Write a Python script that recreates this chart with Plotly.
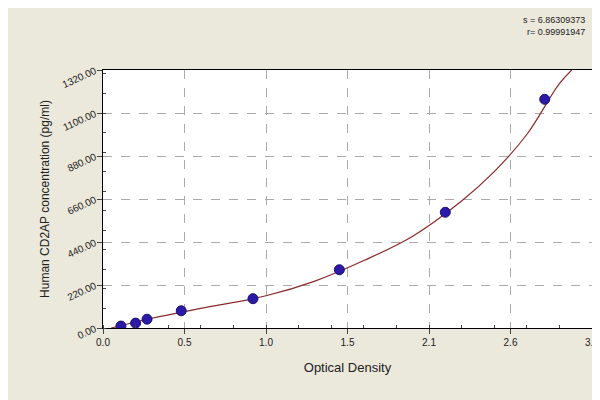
import plotly.graph_objects as go

od = [0.11, 0.20, 0.27, 0.48, 0.92, 1.45, 2.10, 2.71]
conc = [10, 25, 45, 88, 150, 298, 592, 1170]
curve_x = [0.05, 0.3, 0.6, 1.0, 1.3, 1.6, 1.9, 2.2, 2.4, 2.6, 2.8, 2.9]
curve_y = [0, 50, 100, 165, 240, 345, 470, 650, 800, 990, 1250, 1340]
xticks = [0, 0.5, 1.0, 1.5, 2.0, 2.5, 3.0]
xlabels = ["0.0", "0.5", "1.0", "1.5", "2.1", "2.6", "3.1"]
yticks = [0, 220, 440, 660, 880, 1100, 1320]
ylabels = ["0.00", "220.00", "440.00", "660.00", "880.00", "1100.00", "1320.00"]

fig = go.Figure()
fig.add_trace(go.Scatter(x=curve_x, y=curve_y, mode="lines", line=dict(color="#8b2a2a", width=1.2, shape="spline", smoothing=1.0), hoverinfo="skip"))
fig.add_trace(go.Scatter(x=od, y=conc, mode="markers", marker=dict(color="#2b1aa8", size=10, line=dict(color="#1a1070", width=1))))
fig.update_layout(
    width=600, height=400, showlegend=False,
    paper_bgcolor="#ebe8dc", plot_bgcolor="white",
    margin=dict(l=95, r=16, t=62, b=80),
    font=dict(family="Arial, Liberation Sans", size=10, color="#222"),
    annotations=[dict(text="s = 6.86309373<br>r= 0.99991947", xref="paper", yref="paper", x=0.99, y=1.22, xanchor="right", yanchor="top", showarrow=False, align="right", font=dict(size=9))],
)
fig.update_xaxes(range=[0, 3.0], tickvals=xticks, ticktext=xlabels, showgrid=True, gridcolor="#aaa", griddash="dash",
                 showline=True, linecolor="black", mirror=True, ticks="outside", zeroline=False, automargin=False,
                 title=dict(text="Optical Density", font=dict(size=13)), minor=dict(ticks="inside", nticks=5, ticklen=3))
fig.update_yaxes(range=[0, 1320], tickvals=yticks, ticktext=ylabels, showgrid=True, gridcolor="#aaa", griddash="dash",
                 showline=True, linecolor="black", mirror=True, ticks="outside", zeroline=False, tickangle=-25, automargin=False,
                 title=dict(text="Human CD2AP concentration (pg/ml)", font=dict(size=12), standoff=8), minor=dict(ticks="inside", nticks=5, ticklen=3))
fig.write_html("out.html")
